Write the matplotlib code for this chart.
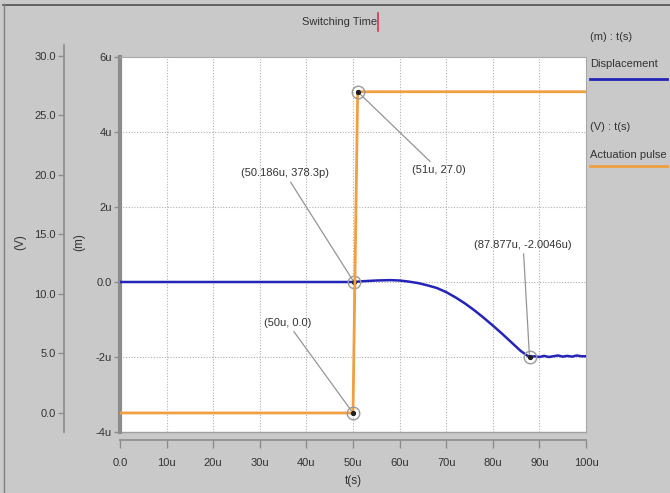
import matplotlib
matplotlib.use("Agg")
import matplotlib.pyplot as plt
from matplotlib.lines import Line2D

plt.rcParams['font.family'] = ['Liberation Sans', 'DejaVu Sans']

# ---- data (time in microseconds, displacement in micrometres, pulse in volts)
t_disp = [0, 50, 50.186, 52, 55, 58, 60, 62, 64, 66, 68, 70, 72, 74, 76, 78, 80,
          82, 84, 86, 87.877, 88.5, 89, 90, 91, 92, 93, 94, 95, 96, 97, 98, 99, 100]
displacement = [0, 0, 0.0004, 0.02, 0.04, 0.05, 0.04, 0.01, -0.03, -0.09, -0.16,
                -0.27, -0.41, -0.57, -0.75, -0.95, -1.16, -1.38, -1.61, -1.84,
                -2.0046, -1.99, -1.98, -2.0, -1.97, -2.0, -1.98, -1.96, -1.99,
                -1.97, -1.99, -1.96, -1.98, -1.98]
t_pulse = [0, 50, 51, 100]
pulse = [0, 0, 27, 27]

x_ticks = [0, 10, 20, 30, 40, 50, 60, 70, 80, 90, 100]
x_labels = ['0.0', '10u', '20u', '30u', '40u', '50u', '60u', '70u', '80u', '90u', '100u']
m_ticks = [-4, -2, 0, 2, 4, 6]
m_labels = ['-4u', '-2u', '0.0', '2u', '4u', '6u']
v_ticks = [0, 5, 10, 15, 20, 25, 30]
v_labels = ['0.0', '5.0', '10.0', '15.0', '20.0', '25.0', '30.0']

# annotated points
disp_pts = [(50.186, 0.0004, '(50.186u, 378.3p)'), (87.877, -2.0046, '(87.877u, -2.0046u)')]
pulse_pts = [(50, 0, '(50u, 0.0)'), (51, 27, '(51u, 27.0)')]

W, H = 670, 493
BG = '#c9c9c9'
TXT = '#333333'
fig = plt.figure(figsize=(W / 100, H / 100), dpi=100, facecolor=BG)

def fx(px):
    return px / W

def fy(py):
    return 1 - py / H

L, R, T, B = 120, 586, 57, 432
ax = fig.add_axes([fx(L), fy(B), fx(R) - fx(L), fy(T) - fy(B)])
ax.set_facecolor('white')
ax.set_xlim(0, 100)
ax.set_ylim(-4, 6)

# grid
for xv in x_ticks[1:-1]:
    ax.axvline(xv, color='#b0b0b0', lw=0.8, ls=(0, (1, 1.5)), zorder=0)
for yv in m_ticks[1:-1]:
    ax.axhline(yv, color='#b0b0b0', lw=0.8, ls=(0, (1, 1.5)), zorder=0)

# spines
for s in ['top', 'right']:
    ax.spines[s].set_color('#a8a8a8')
    ax.spines[s].set_linewidth(0.8)
ax.spines['left'].set_color('#8c8c8c')
ax.spines['left'].set_linewidth(3)
ax.spines['bottom'].set_position(('outward', 6))
ax.spines['bottom'].set_color('#8c8c8c')
ax.spines['bottom'].set_linewidth(1.2)
ax.plot([0, 1], [0, 0], transform=ax.transAxes, color='#a0a0a0', lw=1.0, clip_on=False)

ax.set_xticks(x_ticks)
ax.set_xticklabels(x_labels)
ax.set_yticks(m_ticks)
ax.set_yticklabels(m_labels)
ax.tick_params(axis='x', direction='out', length=6, width=1, color='#8c8c8c',
               labelsize=8, labelcolor=TXT, pad=7)
ax.tick_params(axis='y', direction='out', length=4, width=1, color='#8c8c8c',
               labelsize=8, labelcolor=TXT, pad=2)
ax.set_xlabel('t(s)', fontsize=8.5, color=TXT, labelpad=5)

# displacement
ax.plot(t_disp, displacement, color='#2424b8', lw=1.8, zorder=3)

# pulse on twin axis
ax2 = ax.twinx()
ax2.set_ylim(-1.6, 29.92)
ax2.axis('off')
ax2.plot(t_pulse, pulse, color='#f0a040', lw=2, zorder=3)

# markers + annotations
def mark(a, x, y):
    a.plot([x], [y], 'o', ms=9, mfc='none', mec='#9a9a9a', mew=1.0, zorder=5, clip_on=False)
    a.plot([x], [y], 'o', ms=2.8, color='#202020', zorder=6, clip_on=False)

ann_style = dict(arrowprops=dict(arrowstyle='-', color='#959595', lw=0.9, shrinkA=1, shrinkB=2),
                 fontsize=8, color=TXT, ha='center', va='center')

x0, y0, lab = disp_pts[0]
mark(ax, x0, y0)
ax.annotate(lab, xy=(x0, y0), xytext=(35.4, 2.9), **ann_style)
x0, y0, lab = disp_pts[1]
mark(ax, x0, y0)
ax.annotate(lab, xy=(x0, y0), xytext=(86.5, 1.0), **ann_style)
x0, y0, lab = pulse_pts[0]
mark(ax2, x0, y0)
ax2.annotate(lab, xy=(x0, y0), xytext=(35.9, 7.6), **ann_style)
x0, y0, lab = pulse_pts[1]
mark(ax2, x0, y0)
ax2.annotate(lab, xy=(x0, y0), xytext=(68.5, 20.4), **ann_style)

# V axis (separate scale)
axv = fig.add_axes([fx(64), fy(432), 0.001, fy(45) - fy(432)])
axv.set_facecolor('none')
axv.set_ylim(-1.6, (413 - 45) / 11.9)
for s in ['top', 'right', 'bottom']:
    axv.spines[s].set_visible(False)
axv.spines['left'].set_color('#8c8c8c')
axv.spines['left'].set_linewidth(1.2)
axv.set_xticks([])
axv.set_yticks(v_ticks)
axv.set_yticklabels(v_labels)
axv.tick_params(axis='y', direction='out', length=4, width=1, color='#8c8c8c',
                labelsize=8, labelcolor=TXT, pad=2)

fig.text(fx(20), fy(242), '(V)', rotation=90, fontsize=8.5, color=TXT, ha='center', va='center')
fig.text(fx(79), fy(242), '(m)', rotation=90, fontsize=8.5, color=TXT, ha='center', va='center')

# title with cursor
fig.text(fx(340), fy(22), 'Switching Time', fontsize=8, color=TXT, ha='center', va='center')
fig.add_artist(Line2D([fx(378), fx(378)], [fy(13), fy(31)], color='#e03050', lw=1.2))

# legend
fig.text(fx(590), fy(37), '(m) : t(s)', fontsize=8, color=TXT, ha='left', va='center')
fig.text(fx(590), fy(64), 'Displacement', fontsize=8, color=TXT, ha='left', va='center')
fig.add_artist(Line2D([fx(590), fx(667)], [fy(79), fy(79)], color='#2424b8', lw=2))
fig.text(fx(590), fy(127), '(V) : t(s)', fontsize=8, color=TXT, ha='left', va='center')
fig.text(fx(590), fy(155), 'Actuation pulse', fontsize=8, color=TXT, ha='left', va='center')
fig.add_artist(Line2D([fx(590), fx(667)], [fy(166), fy(166)], color='#f0a040', lw=2))

# outer border (top/left)
fig.add_artist(Line2D([fx(3), fx(670)], [fy(4.5), fy(4.5)], color='#505050', lw=1.2))
fig.add_artist(Line2D([fx(3.5), fx(3.5)], [fy(4), fy(493)], color='#808080', lw=1.0))

fig.savefig('out.png', dpi=100, facecolor=BG)
